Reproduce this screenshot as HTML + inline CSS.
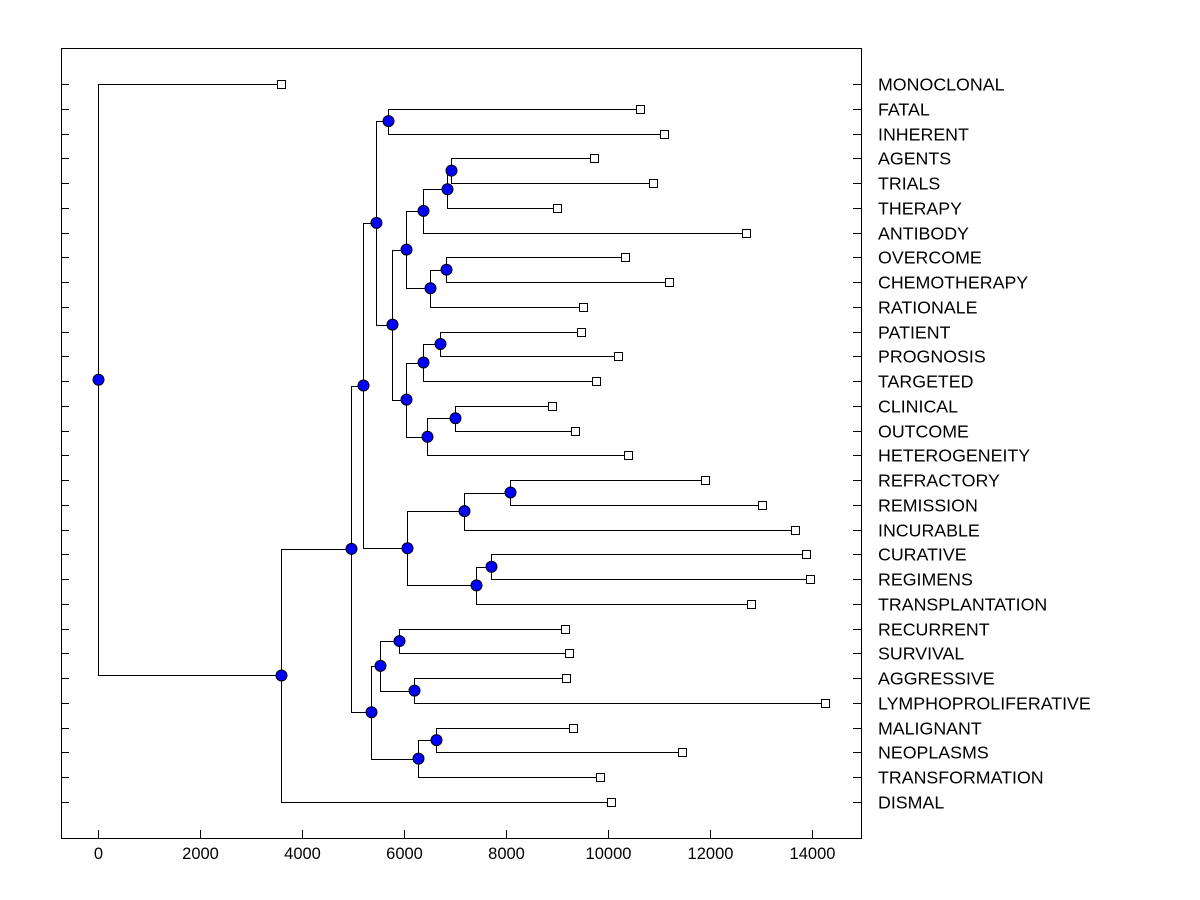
<!DOCTYPE html>
<html><head><meta charset="utf-8"><style>
html,body{margin:0;padding:0;background:#fff;}
svg{display:block;font-family:"Liberation Sans",Arial,sans-serif;}
</style></head><body>
<svg id="chart" width="1200" height="900"></svg>
<script>
const leafNames = ["MONOCLONAL","FATAL","INHERENT","AGENTS","TRIALS","THERAPY","ANTIBODY","OVERCOME","CHEMOTHERAPY","RATIONALE","PATIENT","PROGNOSIS","TARGETED","CLINICAL","OUTCOME","HETEROGENEITY","REFRACTORY","REMISSION","INCURABLE","CURATIVE","REGIMENS","TRANSPLANTATION","RECURRENT","SURVIVAL","AGGRESSIVE","LYMPHOPROLIFERATIVE","MALIGNANT","NEOPLASMS","TRANSFORMATION","DISMAL"];
const leafValues = [3588,10627,11098,9725,10882,9000,12706,10333,11196,9510,9471,10196,9765,8902,9353,10392,11902,13020,13667,13882,13961,12804,9157,9235,9176,14255,9314,11451,9843,10059];
const nodeNames = ["root","A","B","C","D","E","F","G","H","I","J","K","L","M","N","O","P","Q","R","S","T","U","V","W","X","Y","Z","AA","AB"];
const nodeHeights = [0,3588,4961,5196,5353,5451,6059,5686,5765,6039,6039,6373,6510,6843,6922,6824,6373,6451,6706,7000,7176,7412,8078,7706,5529,6275,5902,6196,6627];
const nodeChildren = {
 root:[0,"A"], A:["B",29], B:["C","D"], C:["E","F"], D:["X","Y"],
 E:["G","H"], G:[1,2], H:["I","J"], I:["K","L"], K:["M",6], M:["N",5], N:[3,4],
 L:["O",9], O:[7,8], J:["P","Q"], P:["R",12], R:[10,11], Q:["S",15], S:[13,14],
 F:["T","U"], T:["V",18], V:[16,17], U:["W",21], W:[19,20],
 X:["Z","AA"], Z:[22,23], AA:[24,25], Y:["AB",28], AB:[26,27]
};
const xTicks = [0,2000,4000,6000,8000,10000,12000,14000];

const NS="http://www.w3.org/2000/svg";
const svg=document.getElementById('chart');
const L=61,T=48,R=861,B=838;
const x=v=>98+v*0.051;
const y0=84, dy=(802-84)/29;
const y=i=>y0+i*dy;
function mk(tag,attrs,parent){const e=document.createElementNS(NS,tag);for(const k in attrs)e.setAttribute(k,attrs[k]);(parent||svg).appendChild(e);return e;}

const frame=mk('rect',{x:L+0.5,y:T+0.5,width:R-L,height:B-T,fill:'none',stroke:'#000'});



const axis=mk('g',{});


xTicks.forEach(t=>{
  const px=Math.round(x(t))+0.5;
  mk('line',{x1:px,x2:px,y1:B,y2:B-8,stroke:'#000'},axis);
  const tx=mk('text',{x:px,y:B+21,'text-anchor':'middle','font-size':'16.5'},axis);
  tx.textContent=t;
  
  
});
leafNames.forEach((n,i)=>{
  const py=Math.round(y(i))+0.5;
  mk('line',{x1:L,x2:L+8,y1:py,y2:py,stroke:'#000'});
  mk('line',{x1:R-8,x2:R,y1:py,y2:py,stroke:'#000'});
  const tx=mk('text',{x:878,y:py+6,'font-size':'17.8'});
  tx.textContent=n;
  
  
});

const links=mk('g',{});


const marks=mk('g',{});
const hOf=n=>nodeHeights[nodeNames.indexOf(n)];
function pos(c){
  if(typeof c==='number') return {px:x(leafValues[c]),py:y(c)};
  const ch=nodeChildren[c];
  const a=pos(ch[0]), b=pos(ch[1]);
  const px=x(hOf(c)), py=(a.py+b.py)/2;
  mk('path',{d:`M${a.px},${Math.round(a.py)+0.5}H${Math.round(px)+0.5}V${Math.round(b.py)+0.5}H${b.px}`,fill:'none',stroke:'#000'},links);
  return {px,py};
}
function posCache(c){
  if(typeof c==='number') return {px:x(leafValues[c]),py:y(c)};
  const ch=nodeChildren[c];const a=posCache(ch[0]),b=posCache(ch[1]);
  return {px:x(hOf(c)),py:(a.py+b.py)/2};
}
function drawMarks(c){
  const p=posCache(c);
  if(typeof c==='number'){
    const r=mk('rect',{x:Math.round(p.px)-3.5,y:Math.round(p.py)-3.5,width:8,height:8,fill:'#fff',stroke:'#000'},marks);
    
    
  } else {
    nodeChildren[c].forEach(drawMarks);
    const ci=mk('circle',{cx:Math.round(p.px)+0.5,cy:p.py,r:5.5,fill:'#0000ff',stroke:'#000'},marks);
    
    
  }
}
pos('root');
svg.appendChild(marks);
drawMarks('root');
</script>
</body></html>
